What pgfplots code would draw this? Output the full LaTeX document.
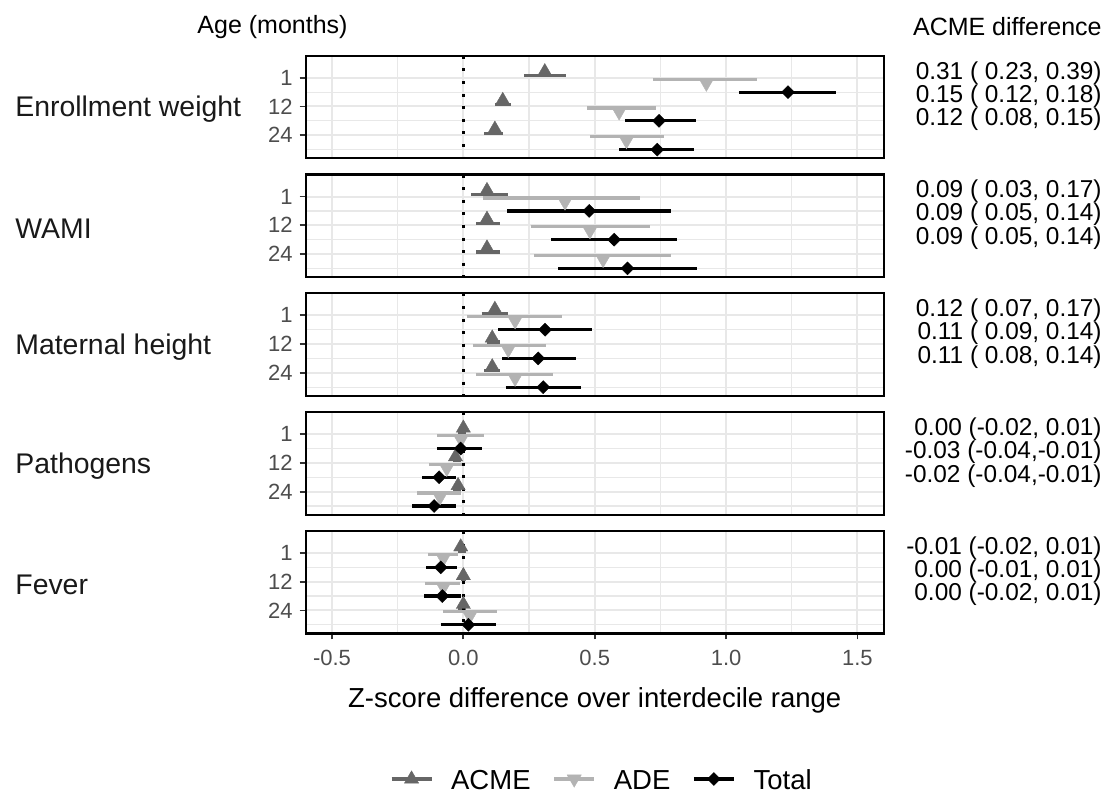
\documentclass[border=0pt]{standalone}
\usepackage{fontspec}
\setmainfont{Liberation Sans}
\usepackage{pgfplots}
\usepackage{pgfplotstable}
\pgfplotsset{compat=1.18}

\definecolor{acmecol}{HTML}{666666}
\definecolor{adecol}{HTML}{B3B3B3}
\definecolor{gridcol}{HTML}{E8E8E8}
\definecolor{tickcol}{HTML}{4D4D4D}

% k = row (1 = 1 month, 2 = 12 months, 3 = 24 months); estimate, lower, upper
\pgfplotstableread{
k acme acmelo acmehi ade adelo adehi tot totlo tothi
1 0.31 0.23 0.39 0.925 0.722 1.116 1.236 1.049 1.420
2 0.15 0.12 0.18 0.593 0.471 0.733 0.745 0.615 0.887
3 0.12 0.08 0.15 0.621 0.484 0.764 0.738 0.593 0.878
}\enroll
\pgfplotstableread{
k acme acmelo acmehi ade adelo adehi tot totlo tothi
1 0.09 0.03 0.17 0.387 0.076 0.674 0.479 0.167 0.790
2 0.09 0.05 0.14 0.482 0.256 0.710 0.574 0.334 0.815
3 0.09 0.05 0.14 0.532 0.270 0.790 0.625 0.361 0.890
}\wami
\pgfplotstableread{
k acme acmelo acmehi ade adelo adehi tot totlo tothi
1 0.12 0.07 0.17 0.197 0.015 0.376 0.311 0.133 0.490
2 0.11 0.09 0.14 0.171 0.036 0.313 0.285 0.148 0.429
3 0.11 0.08 0.14 0.197 0.048 0.340 0.304 0.161 0.446
}\mheight
\pgfplotstableread{
k acme acmelo acmehi ade adelo adehi tot totlo tothi
1 0.00 -0.02 0.01 -0.009 -0.099 0.079 -0.010 -0.101 0.070
2 -0.03 -0.04 -0.01 -0.063 -0.129 -0.006 -0.092 -0.158 -0.029
3 -0.02 -0.04 -0.01 -0.089 -0.175 -0.010 -0.111 -0.196 -0.029
}\pathog
\pgfplotstableread{
k acme acmelo acmehi ade adelo adehi tot totlo tothi
1 -0.01 -0.02 0.01 -0.076 -0.133 -0.019 -0.086 -0.143 -0.025
2 0.00 -0.01 0.01 -0.076 -0.146 -0.013 -0.080 -0.149 -0.010
3 0.00 -0.02 0.01 0.025 -0.076 0.127 0.019 -0.086 0.123
}\fever

\pgfplotsset{
  panel/.style={
    anchor=north west, scale only axis, width=289pt, height=51.25pt,
    xmin=-0.6, xmax=1.6, ymin=0.233, ymax=3.8, y dir=reverse,
    axis line style={line width=1.1pt},
    xtick={-0.5,0,0.5,1,1.5}, minor xtick={-0.25,0.25,0.75,1.25},
    ytick={1,2,3}, yticklabels={1,12,24}, minor ytick={1.5,2.5,3.5},
    xmajorgrids, xminorgrids, ymajorgrids, yminorgrids,
    major grid style={gridcol, line width=1pt},
    minor grid style={gridcol, line width=0.6pt},
    tick align=outside, major tick length=3pt, minor tick length=0pt,
    xtick pos=bottom, ytick pos=left,
    tick style={line width=0.9pt, color=black!80},
    tick label style={font=\fontsize{11}{13}\selectfont, text=tickcol},
    xticklabels={}, xtick style={draw=none},
  },
  ci/.style={forget plot, mark=none, line width=1.6pt, #1},
}

% one panel: intervals first, then the points, then the dotted zero line
\newcommand\forest[1]{
  \addplot[ci=acmecol, quiver={u=\thisrow{acmehi}-\thisrow{acmelo}, v=0}]
    table[x=acmelo, y expr=\thisrow{k}-0.07] {#1};
  \addplot[ci=adecol, quiver={u=\thisrow{adehi}-\thisrow{adelo}, v=0}]
    table[x=adelo, y expr=\thisrow{k}+0.05] {#1};
  \addplot[ci=black, quiver={u=\thisrow{tothi}-\thisrow{totlo}, v=0}]
    table[x=totlo, y expr=\thisrow{k}+0.5] {#1};
  \addplot[forget plot, only marks, acmecol, mark=triangle*, mark size=4.1pt,
    mark options={line width=0.2pt}] table[x=acme, y expr=\thisrow{k}-0.21] {#1};
  \addplot[forget plot, only marks, adecol, mark=triangle*, mark size=4.1pt,
    mark options={rotate=180, line width=0.2pt}] table[x=ade, y expr=\thisrow{k}+0.19] {#1};
  \addplot[forget plot, only marks, black, mark=square*, mark size=2.3pt,
    mark options={rotate=45, line width=0.2pt}] table[x=tot, y expr=\thisrow{k}+0.5] {#1};
  \addplot[forget plot, black, line width=1.5pt, dash pattern=on 1.5pt off 4.8pt]
    coordinates {(0,0.233) (0,3.8)};
}

\begin{document}
\begin{tikzpicture}
\useasboundingbox (0,0) rectangle (555pt,-396.5pt);

\begin{axis}[panel, at={(152.85pt,-27.85pt)}]
\forest{\enroll}
\end{axis}
\begin{axis}[panel, at={(152.85pt,-87.25pt)}]
\forest{\wami}
\end{axis}
\begin{axis}[panel, at={(152.85pt,-146.65pt)}]
\forest{\mheight}
\end{axis}
\begin{axis}[panel, at={(152.85pt,-206.05pt)}]
\forest{\pathog}
\end{axis}
\begin{axis}[panel, at={(152.85pt,-265.45pt)},
  xtick style={draw=black!80, line width=0.9pt},
  xticklabels={-0.5,0.0,0.5,1.0,1.5},
  xticklabel style={yshift=-1.8pt},
  legend columns=3, legend cell align=left,
  legend style={at={(0.514,0)}, anchor=center, yshift=-72.8pt,
    draw=none, fill=none, font=\fontsize{13.75}{16}\selectfont,
    nodes={text height=10pt, text depth=0pt},
    /tikz/every odd column/.append style={column sep=7pt},
    /tikz/every even column/.append style={column sep=9pt}},
  legend image code/.code={\path (0pt,-5pt) (20pt,5pt);
    \draw[mark repeat=2,mark phase=2,#1]
    plot coordinates {(0pt,0pt) (10pt,0pt) (20pt,0pt)};}]
\addlegendimage{acmecol, line width=1.6pt, mark=triangle*, mark size=4.1pt, mark options={solid, line width=0.2pt}}
\addlegendentry{ACME}
\addlegendimage{adecol, line width=1.6pt, mark=triangle*, mark size=4.1pt, mark options={solid, rotate=180, line width=0.2pt}}
\addlegendentry{ADE}
\addlegendimage{black, line width=1.6pt, mark=square*, mark size=2.3pt, mark options={solid, rotate=45, line width=0.2pt}}
\addlegendentry{Total}
\forest{\fever}
\end{axis}

% headers
\node[font=\fontsize{12.5}{15}\selectfont] at (136.25pt,-13.5pt) {Age (months)};
\node[anchor=east, inner sep=0pt, font=\fontsize{12.5}{15}\selectfont] at (551pt,-13.5pt) {ACME difference};

% panel names
\begin{scope}[every node/.style={anchor=west, inner sep=0pt, font=\fontsize{14.2}{16}\selectfont, text=black!90}]
\node at (7.5pt,-54.75pt) {Enrollment weight};
\node at (7.5pt,-114.15pt) {WAMI};
\node at (7.5pt,-173.55pt) {Maternal height};
\node at (7.5pt,-232.95pt) {Pathogens};
\node at (7.5pt,-292.35pt) {Fever};
\end{scope}

% ACME difference with interval
\begin{scope}[every node/.style={anchor=east, inner sep=0pt, font=\fontsize{12.2}{14}\selectfont}]
\node at (551pt,-36.4pt) {0.31 ( 0.23, 0.39)};
\node at (551pt,-47.9pt) {0.15 ( 0.12, 0.18)};
\node at (551pt,-59.65pt) {0.12 ( 0.08, 0.15)};
\node at (551pt,-95.8pt) {0.09 ( 0.03, 0.17)};
\node at (551pt,-107.3pt) {0.09 ( 0.05, 0.14)};
\node at (551pt,-119.05pt) {0.09 ( 0.05, 0.14)};
\node at (551pt,-155.2pt) {0.12 ( 0.07, 0.17)};
\node at (551pt,-166.7pt) {0.11 ( 0.09, 0.14)};
\node at (551pt,-178.45pt) {0.11 ( 0.08, 0.14)};
\node at (551pt,-214.6pt) {0.00 (-0.02, 0.01)};
\node at (551pt,-226.1pt) {-0.03 (-0.04,-0.01)};
\node at (551pt,-237.85pt) {-0.02 (-0.04,-0.01)};
\node at (551pt,-274.0pt) {-0.01 (-0.02, 0.01)};
\node at (551pt,-285.5pt) {0.00 (-0.01, 0.01)};
\node at (551pt,-297.25pt) {0.00 (-0.02, 0.01)};
\end{scope}

% x axis title
\node[font=\fontsize{13.75}{16}\selectfont] at (297.35pt,-350pt) {Z-score difference over interdecile range};
\end{tikzpicture}
\end{document}
